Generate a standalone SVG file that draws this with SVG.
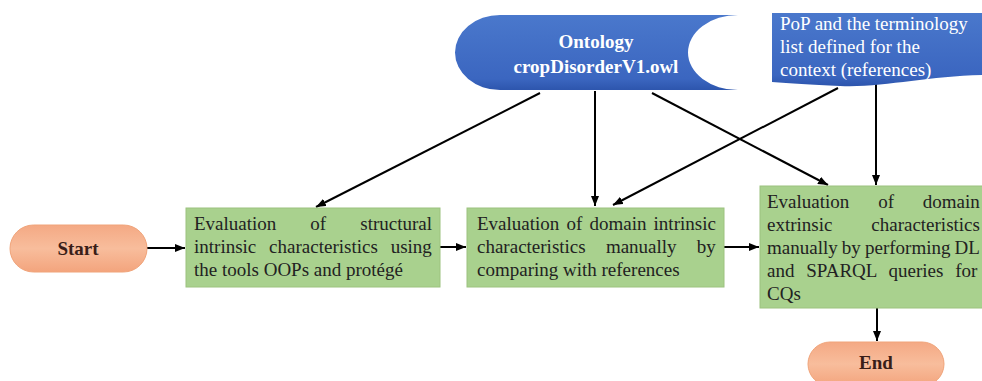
<svg xmlns="http://www.w3.org/2000/svg" width="982" height="381" viewBox="0 0 982 381">
  <style>
    .box { fill: #a9d18e; stroke: #9cc27f; stroke-width: 1; }
    .pill { fill: url(#salmon); stroke: #f0a47a; stroke-width: 1; }
    .blue { fill: url(#blueFill); }
    .body { font-family: "Liberation Serif", "Times New Roman", serif; font-size: 19px; fill: #222; }
    .white { font-family: "Liberation Serif", "Times New Roman", serif; font-size: 19px; fill: #ffffff; }
    .bold { font-weight: bold; }
    .term { font-family: "Liberation Serif", "Times New Roman", serif; font-size: 19px; font-weight: bold; fill: #3a1e18; }
    .edge { fill: none; stroke: #000; stroke-width: 2; marker-end: url(#arrow); }
  </style>
  <defs>
    <linearGradient id="blueFill" x1="0" y1="0" x2="0" y2="1">
      <stop offset="0" stop-color="#4a78cc"/>
      <stop offset="0.85" stop-color="#3b66c0"/>
      <stop offset="1" stop-color="#2d55ad"/>
    </linearGradient>
    <linearGradient id="salmon" x1="0" y1="0" x2="0" y2="1">
      <stop offset="0" stop-color="#f4a984"/>
      <stop offset="0.5" stop-color="#f8bd9c"/>
      <stop offset="1" stop-color="#f3a47d"/>
    </linearGradient>
    <marker id="arrow" markerWidth="10" markerHeight="8" refX="10" refY="4" orient="auto" markerUnits="userSpaceOnUse">
      <path d="M0,0 L10,4 L0,8 Z" fill="#000"/>
    </marker>
  </defs>

  <rect width="982" height="381" fill="#ffffff"/>

  <!-- connectors -->
  <g id="connectors">
    <path class="edge" d="M147 248 H185"/>
    <path class="edge" d="M440 247 H466"/>
    <path class="edge" d="M724 247 H759"/>
    <path class="edge" d="M877 308 V341"/>
    <path class="edge" d="M540 93 L316 207"/>
    <path class="edge" d="M595 91 V206"/>
    <path class="edge" d="M652 93 L828 185"/>
    <path class="edge" d="M838 88 L613 205"/>
    <path class="edge" d="M876 84 V185"/>
  </g>

  <!-- stored-data source: the ontology file -->
  <g id="ontology">
    <path class="blue" d="M500 15 H738 A50 37.5 0 0 0 738 90 H500 A45 37.5 0 0 1 500 15 Z"/>
    <text class="white bold" x="596" y="48" text-anchor="middle">Ontology</text>
    <text class="white bold" x="596" y="73" text-anchor="middle">cropDisorderV1.owl</text>
  </g>

  <!-- document: reference material -->
  <g id="references">
    <path class="blue" d="M772 13 H990 V75 C930 75 885 88 840 86 C810 85 790 83 772 82 Z"/>
    <text class="white" x="780" y="30">PoP and the terminology</text>
    <text class="white" x="780" y="53">list defined for the</text>
    <text class="white" x="780" y="76">context (references)</text>
  </g>

  <g id="start">
    <rect class="pill" x="10" y="225" width="137" height="47" rx="23.5"/>
    <text class="term" x="78" y="255" text-anchor="middle">Start</text>
  </g>

  <g id="structural">
    <rect class="box" x="186" y="208" width="254" height="79"/>
    <text class="body" x="194" y="230" word-spacing="29.3">Evaluation of structural</text>
    <text class="body" x="194" y="253" word-spacing="8.1">intrinsic characteristics using</text>
    <text class="body" x="194" y="276">the tools OOPs and protégé</text>
  </g>

  <g id="domain-intrinsic">
    <rect class="box" x="467" y="208" width="257" height="79"/>
    <text class="body" x="477" y="230" word-spacing="2.4">Evaluation of domain intrinsic</text>
    <text class="body" x="477" y="253" word-spacing="15.5">characteristics manually by</text>
    <text class="body" x="477" y="276">comparing with references</text>
  </g>

  <g id="domain-extrinsic">
    <rect class="box" x="760" y="186" width="232" height="122"/>
    <text class="body" x="767" y="208" word-spacing="24.1">Evaluation of domain</text>
    <text class="body" x="767" y="231" word-spacing="34.1">extrinsic characteristics</text>
    <text class="body" x="767" y="254" word-spacing="-0.6">manually by performing DL</text>
    <text class="body" x="767" y="277" word-spacing="7.1">and SPARQL queries for</text>
    <text class="body" x="767" y="300">CQs</text>
  </g>

  <g id="end">
    <rect class="pill" x="808" y="342" width="136" height="44" rx="22"/>
    <text class="term" x="876" y="369" text-anchor="middle">End</text>
  </g>
</svg>
